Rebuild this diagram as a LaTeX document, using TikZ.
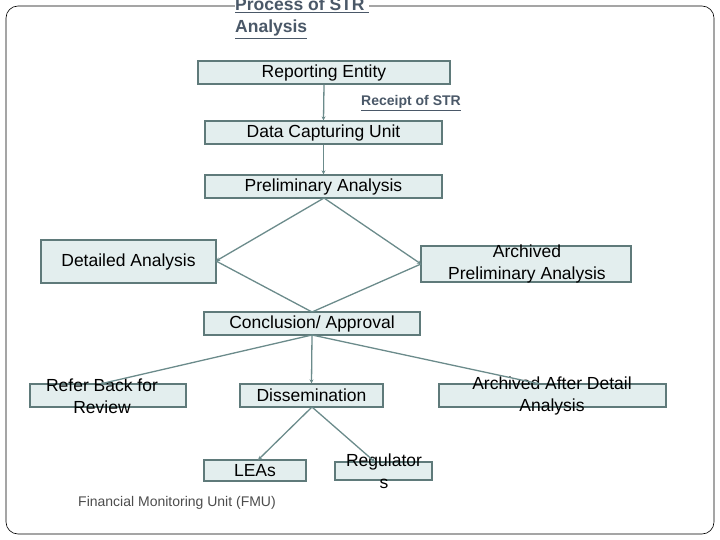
\documentclass[tikz,border=0pt]{standalone}
\usepackage{fontspec}
\setmainfont{Liberation Sans}
\usetikzlibrary{arrows.meta}
\definecolor{boxfill}{HTML}{E3EEEE}
\definecolor{boxline}{HTML}{5F7A7A}
\definecolor{conn}{HTML}{6B8B8B}
\definecolor{titlec}{HTML}{4A5868}
\tikzset{
  bx/.style={draw=boxline,fill=boxfill,line width=1.3pt,inner sep=0pt,font=\fontsize{17.5}{22}\selectfont,align=center},
  lbl/.style={font=\fontsize{17.5}{22}\selectfont,align=center,inner sep=0pt},
  conn/.style={draw=conn,line width=1.3pt,-{Stealth[length=4pt,width=4pt]}},
  lineonly/.style={draw=conn,line width=1.3pt}
}
\begin{document}
\begin{tikzpicture}[x=1pt,y=-1pt]
\useasboundingbox (0,0) rectangle (720,540);
\draw[black,line width=0.6pt,rounded corners=12pt] (6,6) rectangle (714,534);
\node[anchor=north west,fill=white,inner sep=0pt,align=left,text=titlec,font=\bfseries\fontsize{17.5}{22}\selectfont] (title) at (235,-2) {\underline{Process of STR\ }\\\underline{Analysis}};
\node[bx,minimum width=252pt,minimum height=23pt] (re) at (324,72.5) {Reporting Entity};
\node[bx,minimum width=237pt,minimum height=23pt] (dcu) at (323.5,132.5) {Data Capturing Unit};
\node[bx,minimum width=237pt,minimum height=23pt] (pa) at (323.5,186.5) {Preliminary Analysis};
\node[bx,minimum width=175pt,minimum height=43pt] (da) at (128.5,261.5) {Detailed Analysis};
\node[bx,minimum width=210pt,minimum height=36pt] (apa) at (526,264) {};
\node[lbl] (apat) at (527,264) {Archived\\Preliminary Analysis};
\node[bx,minimum width=216pt,minimum height=23pt] (ca) at (312,323.5) {Conclusion/ Approval};
\node[bx,minimum width=156pt,minimum height=23pt] (rb) at (108,395.5) {};
\node[lbl] (rbt) at (102,396) {Refer Back for\\Review};
\node[bx,minimum width=143pt,minimum height=23pt] (dis) at (311.5,395.5) {Dissemination};
\node[bx,minimum width=227pt,minimum height=23pt] (aad) at (552.5,395.5) {};
\node[lbl] (aadt) at (552,396) {Archived After Detail\\Analysis};
\node[bx,minimum width=102pt,minimum height=21pt] (lea) at (255,470.5) {LEAs};
\node[bx,minimum width=97pt,minimum height=18pt] (reg) at (383.5,471) {};
\node[lbl] (regt) at (384,471) {Regulator\\s};
\node[anchor=south east,inner sep=0pt,text=titlec,font=\bfseries\fontsize{14}{16}\selectfont] (rcpt) at (461,111) {\underline{Receipt of STR}};
\node[anchor=west,inner sep=0pt,text=black!70,font=\fontsize{14}{16}\selectfont] (fmu) at (78,503) {Financial Monitoring Unit (FMU)};
\coordinate (pab) at (324,198);
\coordinate (dar) at (216,261);
\coordinate (apl) at (421,264);
\coordinate (cat) at (312,312);
\coordinate (cab) at (312,335);
\coordinate (disb) at (312,407);
\draw[conn] (re.south) -- (dcu.north);
\draw[conn] (dcu.south) -- (pa.north);
\draw[conn] (pab) -- (dar);
\draw[conn] (pab) -- (apl);
\draw[lineonly] (dar) -- (cat);
\draw[lineonly] (apl) -- (cat);
\draw[conn] (cab) -- (100,384) coordinate (rbtop);
\draw[conn] (cab) -- (dis.north);
\draw[conn] (cab) -- (540,384) coordinate (aadtop);
\draw[conn] (disb) -- (258,460) coordinate (leatop);
\draw[conn] (disb) -- (375,462) coordinate (regtop);
\end{tikzpicture}
\end{document}
